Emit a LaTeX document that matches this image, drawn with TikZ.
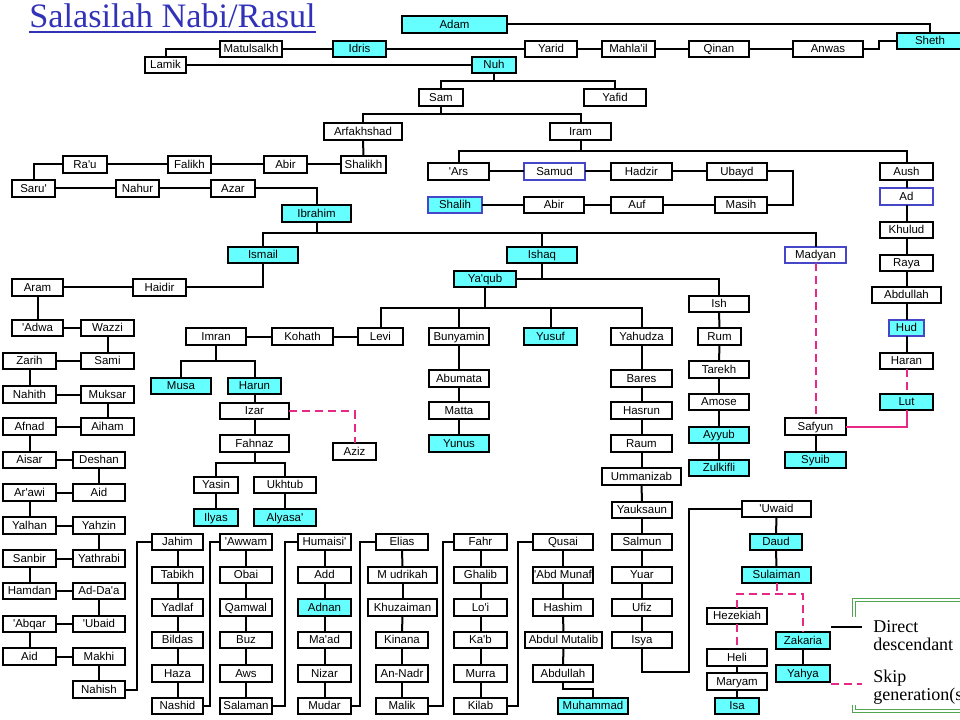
\documentclass[tikz,border=0pt]{standalone}
\usepackage{fontspec}
\setmainfont{Liberation Sans}
\newfontfamily\boxface{Liberation Sans}
\newfontfamily\serifface{Liberation Serif}
\definecolor{nabi}{RGB}{102,255,255}
\definecolor{bluebd}{RGB}{70,70,200}
\definecolor{pinkc}{RGB}{232,40,135}
\definecolor{titleblue}{RGB}{50,50,185}
\definecolor{lgreen}{RGB}{80,165,80}
\newcommand\bx[7][]{\node[box,#1,minimum width={(#5-#3)*0.75pt},minimum height={(#6-#4)*0.75pt}] (#2) at ({(#3+#5)/2},{(#4+#6)/2}) {#7};}
\begin{document}
\begin{tikzpicture}[x=0.75pt,y=-0.75pt,
  box/.style={draw=black,line width=0.8pt,fill=white,inner sep=0pt,outer sep=0pt,text height=6.2pt,text depth=0.6pt,font=\boxface\fontsize{8.6}{10}\selectfont,text=black},
  cy/.style={fill=nabi},
  bl/.style={draw=bluebd},
  heavy/.style={line width=2pt},
  link/.style={line width=1.5pt,black},
  skipline/.style={line width=1.5pt,pinkc,dash pattern=on 6pt off 3.75pt},
  pinkline/.style={line width=1.5pt,pinkc}]
\useasboundingbox (0,0) rectangle (960,720);
\clip (0,0) rectangle (960,720);
\fill[white] (0,0) rectangle (960,720);

% title
\node[anchor=base west,inner sep=0pt,font=\serifface\fontsize{25.7}{26}\selectfont,text=titleblue] (title) at (29,28) {Salasilah Nabi/Rasul};
\draw[titleblue,line width=1.1pt] ([yshift=-3pt]title.base west) -- ([yshift=-3pt]title.base east);

% ---- top generations
\bx[cy,heavy]{Adam}{402}{16}{507}{33}{Adam}
\bx[cy]{Sheth}{897}{33}{963}{49}{Sheth}
\bx{Anwas}{793}{41}{863}{57}{Anwas}
\bx{Qinan}{689}{41}{749}{57}{Qinan}
\bx{Mahlail}{602}{41}{655}{57}{Mahla'il}
\bx{Yarid}{525}{41}{577}{57}{Yarid}
\bx[cy]{Idris}{333}{41}{386}{57}{Idris}
\bx{Matulsalkh}{220}{41}{282}{57}{Matulsalkh}
\bx{Lamik}{145}{57}{186}{73}{Lamik}
\bx[cy]{Nuh}{472}{57}{516}{73}{Nuh}
\bx{Sam}{419}{89}{463}{106}{Sam}
\bx{Yafid}{584}{89}{646}{106}{Yafid}
\bx{Arfakhshad}{324}{123}{402}{140}{Arfakhshad}
\bx{Iram}{550}{123}{611}{140}{Iram}
\bx{Shalikh}{341}{156}{386}{173}{Shalikh}
\bx{AbirA}{264}{156}{307}{173}{Abir}
\bx{Falikh}{168}{156}{211}{173}{Falikh}
\bx{Rau}{63}{156}{107}{173}{Ra'u}
\bx{Saru}{12}{180}{55}{197}{Saru'}
\bx{Nahur}{116}{180}{159}{197}{Nahur}
\bx{Azar}{211}{180}{255}{197}{Azar}
\bx[cy]{Ibrahim}{282}{205}{351}{222}{Ibrahim}
\bx{Ars}{428}{163}{489}{180}{'Ars}
\bx[bl]{Samud}{524}{163}{585}{180}{Samud}
\bx{Hadzir}{611}{163}{672}{180}{Hadzir}
\bx{Ubayd}{707}{163}{767}{180}{Ubayd}
\bx[cy,bl]{Shalih}{428}{197}{482}{213}{Shalih}
\bx{AbirB}{524}{197}{584}{213}{Abir}
\bx{Auf}{611}{197}{663}{213}{Auf}
\bx{Masih}{715}{197}{767}{213}{Masih}
\bx{Aush}{880}{163}{933}{180}{Aush}
\bx[bl]{Ad}{880}{188}{933}{205}{Ad}
\bx{Khulud}{880}{222}{933}{238}{Khulud}
\bx{Raya}{880}{255}{933}{271}{Raya}
\bx{AbdullahA}{872}{287}{941}{303}{Abdullah}
\bx[cy,bl]{Hud}{889}{320}{924}{336}{Hud}
\bx{Haran}{880}{353}{933}{369}{Haran}
\bx[cy]{Lut}{880}{394}{933}{410}{Lut}
\bx[bl]{Madyan}{785}{247}{846}{263}{Madyan}
\bx{Safyun}{785}{418}{846}{435}{Safyun}
\bx[cy]{Syuib}{785}{452}{846}{468}{Syuib}
\bx[cy]{Ismail}{228}{247}{298}{263}{Ismail}
\bx[cy]{Ishaq}{507}{247}{577}{263}{Ishaq}
\bx[cy]{Yaqub}{454}{271}{516}{287}{Ya'qub}

% ---- Ismail line (left)
\bx{Haidir}{133}{279}{186}{296}{Haidir}
\bx{Aram}{12}{279}{63}{296}{Aram}
\bx{Adwa}{12}{320}{63}{336}{'Adwa}
\bx{Wazzi}{81}{320}{134}{336}{Wazzi}
\bx{Sami}{81}{353}{134}{369}{Sami}
\bx{Zarih}{3}{353}{56}{369}{Zarih}
\bx{Nahith}{3}{386}{56}{403}{Nahith}
\bx{Muksar}{81}{386}{134}{403}{Muksar}
\bx{Aiham}{81}{418}{134}{435}{Aiham}
\bx{Afnad}{3}{418}{56}{435}{Afnad}
\bx{Aisar}{3}{452}{56}{468}{Aisar}
\bx{Deshan}{73}{452}{125}{468}{Deshan}
\bx{Arawi}{3}{484}{56}{501}{Ar'awi}
\bx{AidA}{73}{484}{125}{501}{Aid}
\bx{Yalhan}{3}{517}{56}{534}{Yalhan}
\bx{Yahzin}{73}{517}{125}{534}{Yahzin}
\bx{Sanbir}{3}{550}{56}{567}{Sanbir}
\bx{Yathrabi}{73}{550}{125}{567}{Yathrabi}
\bx{Hamdan}{3}{583}{56}{599}{Hamdan}
\bx{AdDaa}{73}{583}{125}{599}{Ad-Da'a}
\bx{Abqar}{3}{616}{56}{632}{'Abqar}
\bx{Ubaid}{73}{616}{125}{632}{'Ubaid}
\bx{AidB}{3}{648}{56}{665}{Aid}
\bx{Makhi}{73}{648}{125}{665}{Makhi}
\bx{Nahish}{73}{681}{125}{698}{Nahish}

% ---- Ya'qub descendants
\bx{Imran}{186}{328}{246}{345}{Imran}
\bx{Kohath}{272}{328}{333}{345}{Kohath}
\bx{Levi}{358}{328}{403}{345}{Levi}
\bx{Bunyamin}{429}{328}{489}{345}{Bunyamin}
\bx[cy]{Yusuf}{524}{328}{577}{345}{Yusuf}
\bx{Yahudza}{611}{328}{672}{345}{Yahudza}
\bx{Ish}{689}{296}{749}{312}{Ish}
\bx{Rum}{698}{328}{741}{345}{Rum}
\bx{Tarekh}{689}{361}{749}{378}{Tarekh}
\bx{Amose}{689}{394}{749}{410}{Amose}
\bx[cy]{Ayyub}{689}{427}{749}{443}{Ayyub}
\bx[cy]{Zulkifli}{689}{460}{749}{476}{Zulkifli}
\bx[cy]{Musa}{151}{378}{211}{394}{Musa}
\bx[cy]{Harun}{228}{378}{281}{394}{Harun}
\bx{Izar}{220}{403}{289}{419}{Izar}
\bx{Fahnaz}{220}{435}{289}{452}{Fahnaz}
\bx{Aziz}{333}{443}{376}{460}{Aziz}
\bx{Yasin}{194}{477}{238}{493}{Yasin}
\bx{Ukhtub}{254}{477}{316}{493}{Ukhtub}
\bx[cy]{Ilyas}{194}{509}{238}{526}{Ilyas}
\bx[cy]{Alyasa}{254}{509}{316}{526}{Alyasa'}
\bx{Abumata}{429}{370}{489}{387}{Abumata}
\bx{Matta}{429}{402}{489}{419}{Matta}
\bx[cy]{Yunus}{429}{435}{489}{452}{Yunus}
\bx{Bares}{611}{370}{672}{387}{Bares}
\bx{Hasrun}{611}{402}{672}{419}{Hasrun}
\bx{Raum}{611}{435}{672}{452}{Raum}
\bx{Ummanizab}{602}{468}{681}{485}{Ummanizab}
\bx{Yauksaun}{612}{502}{672}{518}{Yauksaun}
\bx{Salmun}{612}{534}{672}{550}{Salmun}
\bx{Yuar}{612}{567}{672}{583}{Yuar}
\bx{Ufiz}{612}{599}{672}{616}{Ufiz}
\bx{Isya}{612}{632}{672}{648}{Isya}
\bx{Uwaid}{742}{501}{811}{517}{'Uwaid}
\bx[cy]{Daud}{750}{534}{802}{550}{Daud}
\bx[cy]{Sulaiman}{742}{567}{811}{583}{Sulaiman}
\bx{Hezekiah}{707}{608}{767}{624}{Hezekiah}
\bx{Heli}{707}{649}{767}{666}{Heli}
\bx{Maryam}{707}{673}{767}{690}{Maryam}
\bx[cy]{Isa}{715}{698}{759}{714}{Isa}
\bx[cy]{Zakaria}{776}{632}{830}{649}{Zakaria}
\bx[cy]{Yahya}{776}{665}{830}{682}{Yahya}

% ---- bottom columns
\bx{Jahim}{152}{534}{203}{550}{Jahim}
\bx{Tabikh}{152}{567}{203}{583}{Tabikh}
\bx{Yadlaf}{152}{599}{203}{616}{Yadlaf}
\bx{Bildas}{152}{632}{203}{648}{Bildas}
\bx{Haza}{152}{665}{203}{682}{Haza}
\bx{Nashid}{152}{698}{203}{714}{Nashid}
\bx{Awwam}{220}{534}{272}{550}{'Awwam}
\bx{Obai}{220}{567}{272}{583}{Obai}
\bx{Qamwal}{220}{599}{272}{616}{Qamwal}
\bx{Buz}{220}{632}{272}{648}{Buz}
\bx{Aws}{220}{665}{272}{682}{Aws}
\bx{Salaman}{220}{698}{272}{714}{Salaman}
\bx{Humaisi}{298}{534}{351}{550}{Humaisi'}
\bx{Add}{298}{567}{351}{583}{Add}
\bx[cy]{Adnan}{298}{599}{351}{616}{Adnan}
\bx{Maad}{298}{632}{351}{648}{Ma'ad}
\bx{Nizar}{298}{665}{351}{682}{Nizar}
\bx{Mudar}{298}{698}{351}{714}{Mudar}
\bx{Elias}{376}{534}{428}{550}{Elias}
\bx{Mudrikah}{368}{567}{437}{583}{M udrikah}
\bx{Khuzaiman}{368}{599}{437}{616}{Khuzaiman}
\bx{Kinana}{376}{632}{428}{648}{Kinana}
\bx{AnNadr}{376}{665}{428}{682}{An-Nadr}
\bx{Malik}{376}{698}{428}{714}{Malik}
\bx{Fahr}{454}{534}{507}{550}{Fahr}
\bx{Ghalib}{454}{567}{507}{583}{Ghalib}
\bx{Loi}{454}{599}{507}{616}{Lo'i}
\bx{Kab}{454}{632}{507}{648}{Ka'b}
\bx{Murra}{454}{665}{507}{682}{Murra}
\bx{Kilab}{454}{698}{507}{714}{Kilab}
\bx{Qusai}{533}{534}{593}{550}{Qusai}
\bx{AbdMunaf}{533}{567}{593}{583}{'Abd Munaf}
\bx{Hashim}{533}{599}{593}{616}{Hashim}
\bx{AbdulMutalib}{525}{632}{602}{648}{Abdul Mutalib}
\bx{AbdullahB}{533}{665}{593}{682}{Abdullah}
\bx[cy,heavy]{Muhammad}{558}{698}{628}{714}{Muhammad}

% ================= connectors
\begin{scope}[link]
\draw (Adam.east) -| (Sheth.north);
\draw (Matulsalkh.east) -- (Idris.west);
\draw (Idris.east) -- (Yarid.west);
\draw (Yarid.east) -- (Mahlail.west);
\draw (Mahlail.east) -- (Qinan.west);
\draw (Qinan.east) -- (Anwas.west);
\draw (Anwas.east) -- ++(16,0) |- (Sheth.west);
\draw (Matulsalkh.west) -| (Lamik.north);
\draw (Lamik.east) -- (Nuh.west);
\draw (Nuh.south) -- ++(0,8);
\draw (Sam.north) -- ++(0,-8) -| (Yafid.north);
\draw (Sam.south) -- ++(0,8);
\draw (Arfakhshad.north) -- ++(0,-9) -| (Iram.north);
\draw (Arfakhshad.south) -- (Shalikh.north);
\draw (Rau.east) -- (Falikh.west);
\draw (Falikh.east) -- (AbirA.west);
\draw (AbirA.east) -- (Shalikh.west);
\draw (Rau.west) -| (Saru.north);
\draw (Saru.east) -- (Nahur.west);
\draw (Nahur.east) -- (Azar.west);
\draw (Azar.east) -| (Ibrahim.north);
\draw (Ibrahim.south) -- ++(0,11);
\draw (Ismail.north) -- ++(0,-14) -| (Madyan.north);
\draw (Ishaq.north) -- ++(0,-14);
\draw (Iram.south) -- ++(0,11);
\draw (Ars.north) -- ++(0,-12) -| (Aush.north);
\draw (Ars.east) -- (Samud.west);
\draw (Samud.east) -- (Hadzir.west);
\draw (Hadzir.east) -- (Ubayd.west);
\draw (Ubayd.east) -- ++(26,0) |- (Masih.east);
\draw (Shalih.east) -- (AbirB.west);
\draw (AbirB.east) -- (Auf.west);
\draw (Auf.east) -- (Masih.west);
\draw (Aush.south) -- (Ad.north);
\draw (Ad.south) -- (Khulud.north);
\draw (Khulud.south) -- (Raya.north);
\draw (Raya.south) -- (AbdullahA.north);
\draw (AbdullahA.south) -- (Hud.north);
\draw (Hud.south) -- (Haran.north);
\draw (Safyun.south) -- (Syuib.north);
% Ismail branch
\draw (Ismail.south) |- (Haidir.east);
\draw (Haidir.west) -- (Aram.east);
\draw (Aram.south) -- (Adwa.north);
\draw (Adwa.east) -- (Wazzi.west);
\draw (Wazzi.south) -- (Sami.north);
\draw (Sami.west) -- (Zarih.east);
\draw (Zarih.south) -- (Nahith.north);
\draw (Nahith.east) -- (Muksar.west);
\draw (Muksar.south) -- (Aiham.north);
\draw (Aiham.west) -- (Afnad.east);
\draw (Afnad.south) -- (Aisar.north);
\draw (Aisar.east) -- (Deshan.west);
\draw (Deshan.south) -- (AidA.north);
\draw (AidA.west) -- (Arawi.east);
\draw (Arawi.south) -- (Yalhan.north);
\draw (Yalhan.east) -- (Yahzin.west);
\draw (Yahzin.south) -- (Yathrabi.north);
\draw (Yathrabi.west) -- (Sanbir.east);
\draw (Sanbir.south) -- (Hamdan.north);
\draw (Hamdan.east) -- (AdDaa.west);
\draw (AdDaa.south) -- (Ubaid.north);
\draw (Ubaid.west) -- (Abqar.east);
\draw (Abqar.south) -- (AidB.north);
\draw (AidB.east) -- (Makhi.west);
\draw (Makhi.south) -- (Nahish.north);
\draw (Nahish.east) -- ++(12,0) |- (Jahim.west);
\draw (Jahim.south) -- (Tabikh.north);
\draw (Tabikh.south) -- (Yadlaf.north);
\draw (Yadlaf.south) -- (Bildas.north);
\draw (Bildas.south) -- (Haza.north);
\draw (Haza.south) -- (Nashid.north);
\draw (Nashid.east) -- ++(7,0) |- (Awwam.west);
\draw (Awwam.south) -- (Obai.north);
\draw (Obai.south) -- (Qamwal.north);
\draw (Qamwal.south) -- (Buz.north);
\draw (Buz.south) -- (Aws.north);
\draw (Aws.south) -- (Salaman.north);
\draw (Salaman.east) -- ++(13,0) |- (Humaisi.west);
\draw (Humaisi.south) -- (Add.north);
\draw (Add.south) -- (Adnan.north);
\draw (Adnan.south) -- (Maad.north);
\draw (Maad.south) -- (Nizar.north);
\draw (Nizar.south) -- (Mudar.north);
\draw (Mudar.east) -- ++(9,0) |- (Elias.west);
\draw (Elias.south) -- (Mudrikah.north);
\draw (Mudrikah.south) -- (Khuzaiman.north);
\draw (Khuzaiman.south) -- (Kinana.north);
\draw (Kinana.south) -- (AnNadr.north);
\draw (AnNadr.south) -- (Malik.north);
\draw (Malik.east) -- ++(15,0) |- (Fahr.west);
\draw (Fahr.south) -- (Ghalib.north);
\draw (Ghalib.south) -- (Loi.north);
\draw (Loi.south) -- (Kab.north);
\draw (Kab.south) -- (Murra.north);
\draw (Murra.south) -- (Kilab.north);
\draw (Kilab.east) -- ++(11,0) |- (Qusai.west);
\draw (Qusai.south) -- (AbdMunaf.north);
\draw (AbdMunaf.south) -- (Hashim.north);
\draw (Hashim.south) -- (AbdulMutalib.north);
\draw (AbdulMutalib.south) -- (AbdullahB.north);
\draw (AbdullahB.south) -- ++(0,7) -| (Muhammad.north);
% Ishaq branch
\draw (Ishaq.south) -- ++(0,16);
\draw (Yaqub.east) -| (Ish.north);
\draw (Yaqub.south) -- ++(0,21);
\draw (Levi.north) -- ++(0,-20) -| (Yahudza.north);
\draw (Bunyamin.north) -- ++(0,-20);
\draw (Yusuf.north) -- ++(0,-20);
\draw (Levi.west) -- (Kohath.east);
\draw (Kohath.west) -- (Imran.east);
\draw (Imran.south) -- ++(0,16);
\draw (Musa.north) -- ++(0,-17) -| (Harun.north);
\draw (Harun.south) -- (Izar.north);
\draw (Izar.south) -- (Fahnaz.north);
\draw (Fahnaz.south) -- ++(0,11);
\draw (Yasin.north) -- ++(0,-14) -| (Ukhtub.north);
\draw (Yasin.south) -- (Ilyas.north);
\draw (Ukhtub.south) -- (Alyasa.north);
\draw (Bunyamin.south) -- (Abumata.north);
\draw (Abumata.south) -- (Matta.north);
\draw (Matta.south) -- (Yunus.north);
\draw (Yahudza.south) -- (Bares.north);
\draw (Bares.south) -- (Hasrun.north);
\draw (Hasrun.south) -- (Raum.north);
\draw (Raum.south) -- (Ummanizab.north);
\draw (Ummanizab.south) -- (Yauksaun.north);
\draw (Yauksaun.south) -- (Salmun.north);
\draw (Salmun.south) -- (Yuar.north);
\draw (Yuar.south) -- (Ufiz.north);
\draw (Ufiz.south) -- (Isya.north);
\coordinate (isyaturn) at (689,672);
\draw (Isya.south) |- (isyaturn) |- (Uwaid.west);
\draw (Ish.south) -- (Rum.north);
\draw (Rum.south) -- (Tarekh.north);
\draw (Tarekh.south) -- (Amose.north);
\draw (Amose.south) -- (Ayyub.north);
\draw (Ayyub.south) -- (Zulkifli.north);
\draw (Uwaid.south) -- (Daud.north);
\draw (Daud.south) -- (Sulaiman.north);
\draw (Heli.south) -- (Maryam.north);
\draw (Maryam.south) -- (Isa.north);
\draw (Zakaria.south) -- (Yahya.north);
\end{scope}

% skip-generation links
\draw[skipline] (Haran.south) -- (Lut.north);
\draw[skipline] (Madyan.south) -- (Safyun.north);
\draw[pinkline] (Lut.south) |- (Safyun.east);
\draw[skipline] (Izar.east) -| (Aziz.north);
\draw[skipline] (Sulaiman.south) -- ++(0,11);
\draw[skipline] (Hezekiah.north) -- ++(0,-14) -| (Zakaria.north);
\draw[skipline] (Hezekiah.south) -- (Heli.north);

% legend
\draw[lgreen,line width=0.8pt,double=white,double distance=1.4pt] (854,600) rectangle (995,711);
\fill[white] (845,617) rectangle (960,705);
\coordinate (lgA) at (831,627);
\coordinate (lgB) at (862,627);
\coordinate (lgC) at (831,684);
\coordinate (lgD) at (862,684);
\draw[link] (lgA) -- (lgB);
\draw[skipline] (lgC) -- (lgD);
\begin{scope}[every node/.style={anchor=base west,inner sep=0pt,font=\serifface\fontsize{13.5}{13.5}\selectfont}]
\node (lg1) at (873,632) {Direct};
\node (lg2) at (873,650) {descendant};
\node (lg3) at (873,682) {Skip};
\node (lg4) at (873,700) {generation(s)};
\end{scope}
\end{tikzpicture}
\end{document}
